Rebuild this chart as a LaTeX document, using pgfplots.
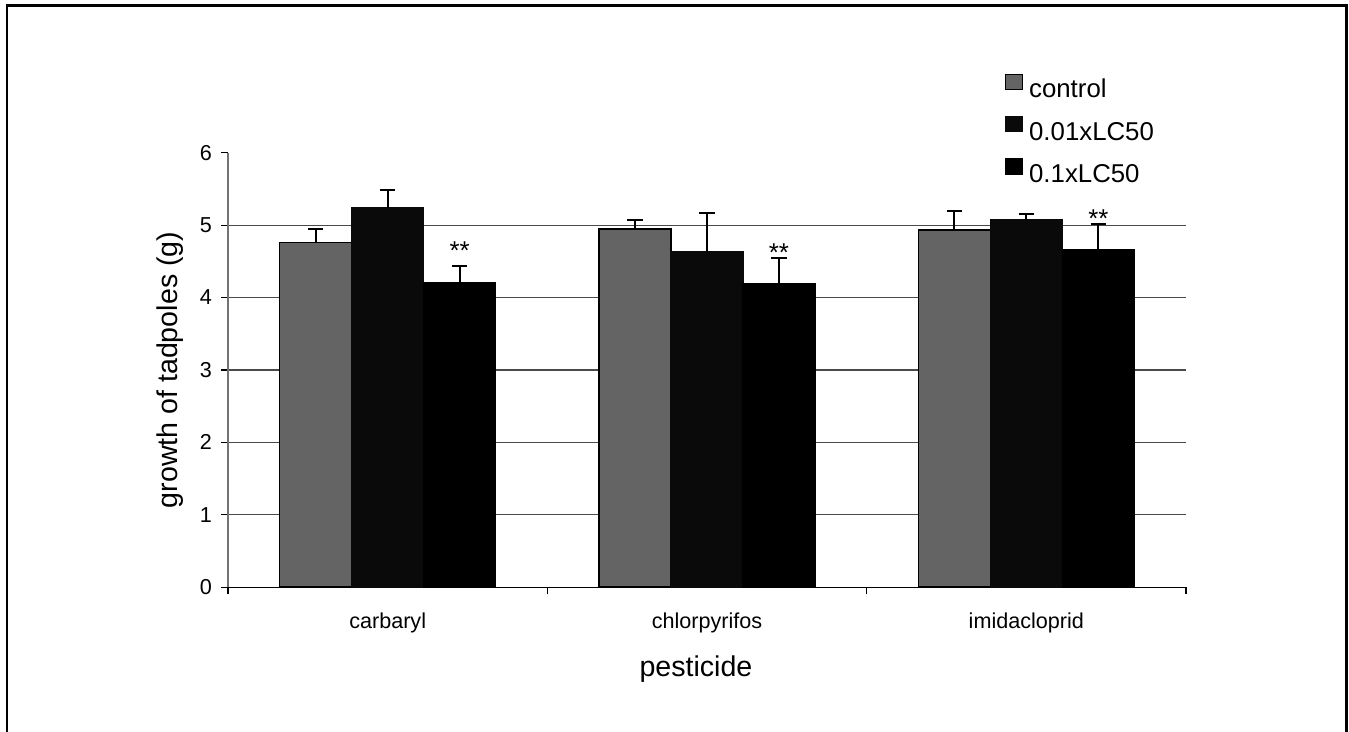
\documentclass[border=0pt]{standalone}
\usepackage{pgfplots}
\pgfplotsset{compat=1.18}
\usepackage{pgfplotstable}
\usepackage{fontspec}
\setmainfont{Liberation Sans}

\definecolor{ctrlgray}{HTML}{646464}
\definecolor{lowblack}{HTML}{0A0A0A}
\definecolor{gridgray}{HTML}{4A4A4A}

% mean growth (g) and upper error for each treatment
\pgfplotstableread{
x  ctrl  ctrlerr  low   lowerr  high  higherr
0  4.76  0.18     5.24  0.24    4.21  0.22
1  4.95  0.12     4.63  0.54    4.19  0.36
2  4.93  0.26     5.07  0.09    4.66  0.35
}\growth

% positions of the significance marks above the 0.1xLC50 bars
\pgfplotstableread{
x       y
0.2254  4.65
1.2254  4.62
2.2254  5.09
}\signif

\newcommand{\legfont}{\fontsize{12.9}{15}\selectfont}

\begin{document}
\begin{tikzpicture}
\useasboundingbox (0,0) rectangle (674.5pt,366pt);
\draw[line width=1.2pt, black] (3.5pt,-3pt) -- (3.5pt,363.2pt) -- (673.2pt,363.2pt) -- (673.2pt,-3pt);
\begin{axis}[
  at={(114pt,72.35pt)}, anchor=south west,
  scale only axis, width=479pt, height=217.3pt,
  ybar=0pt, bar width=36pt,
  xmin=-0.5, xmax=2.5, ymin=0, ymax=6,
  axis lines*=left,
  x axis line style={black, line width=0.7pt},
  y axis line style={black!55, line width=0.7pt},
  tick align=outside, major tick length=3.5pt,
  tick style={black, line width=0.6pt},
  xtick={-0.5,0.5,1.5,2.5}, xticklabels={},
  extra x ticks={0,1,2},
  extra x tick labels={carbaryl,chlorpyrifos,imidacloprid},
  extra x tick style={major tick length=0pt,
    xticklabel style={anchor=base, yshift=-20.5pt}},
  ytick={0,1,2,3,4,5},
  ymajorgrids,
  grid style={gridgray, line width=0.6pt},
  extra y ticks={6}, extra y tick style={grid=none},
  /pgf/number format/assume math mode=true,
  tick label style={font=\fontsize{10.8}{13}\selectfont},
  yticklabel style={xshift=-1pt},
  xlabel={pesticide},
  ylabel={growth of tadpoles (g)},
  label style={font=\fontsize{14.3}{17}\selectfont},
  xlabel style={at={(axis description cs:0.4885,-0.189)}, anchor=center},
  ylabel style={at={(axis description cs:-0.0605,0.5)}, anchor=center},
  legend style={at={(axis description cs:0.811,1.183)}, anchor=north west,
    draw=none, fill=none, inner sep=0pt,
    font=\legfont,
    row sep=9pt,
    nodes={inner sep=0pt, text height=9.3pt, text depth=0pt, font=\legfont},
    /tikz/every odd column/.append style={column sep=3.2pt}},
  legend cell align=left,
  legend image code/.code={\draw[#1, line width=0.5pt] (0pt,-0.3pt) rectangle (8.2pt,7.3pt);},
  error bars/error bar style={black, line width=1pt},
  error bars/error mark options={rotate=90, mark size=3.9pt, line width=1pt, black},
]
\addplot[fill=ctrlgray, draw=black, line width=0.8pt,
  error bars/.cd, y dir=plus, y explicit]
  table[x=x, y=ctrl, y error=ctrlerr] {\growth};
\addplot[fill=lowblack, draw=lowblack, line width=0.8pt,
  error bars/.cd, y dir=plus, y explicit]
  table[x=x, y=low, y error=lowerr] {\growth};
\addplot[fill=black, draw=black, line width=0.8pt,
  error bars/.cd, y dir=plus, y explicit]
  table[x=x, y=high, y error=higherr] {\growth};
\legend{control,0.01xLC50,0.1xLC50}
\addplot[sharp plot, draw=none, mark=none, forget plot,
  nodes near coords={**},
  every node near coord/.style={anchor=center, inner sep=0pt,
    font=\legfont}]
  table[x=x, y=y] {\signif};
\end{axis}
\end{tikzpicture}
\end{document}
